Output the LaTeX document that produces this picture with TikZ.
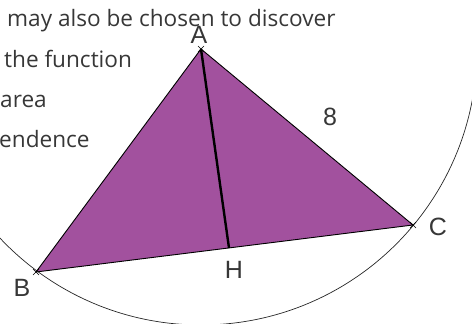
\documentclass[tikz,border=0pt]{standalone}
\usepackage{fontspec}
\setmainfont{Open Sans}
\newfontfamily\labelfont{Liberation Sans}
\definecolor{tri}{RGB}{162,81,158}
\definecolor{txt}{RGB}{55,55,55}
\begin{document}
\begin{tikzpicture}[x=1pt,y=-1pt,
  bodytext/.style={anchor=base west,inner sep=0pt,text=txt,font=\fontsize{22.6}{26}\selectfont},
  ptlabel/.style={inner sep=0pt,text=txt,font=\labelfont\fontsize{25}{28}\selectfont},
  ptcross/.style={line width=0.6pt,black}]
\useasboundingbox (0,0) rectangle (472,324);
\coordinate (A) at (201,49);
\coordinate (B) at (36,272);
\coordinate (C) at (413,225);
\coordinate (H) at (229,248);
% text lines
\node[bodytext] (t1) at (7,27) {may also be chosen to discover};
\node[bodytext] (t2) at (4,67) {the function};
\node[bodytext] (t3) at (0,107) {area};
\node[bodytext] (t4) at (-1,147) {endence};
% circle
\draw[line width=0.7pt,black!85] (A) circle[radius=276];
% triangle
\fill[tri] (A) -- (B) -- (C) -- cycle;
\draw[line width=0.9pt,black] (A) -- (B) -- (C) -- cycle;
\draw[line width=2.4pt,black] (A) -- (H);
% point crosses
\foreach \p in {A,B,C}{
  \draw[ptcross] ([shift={(-3,-3)}]\p) -- ([shift={(3,3)}]\p);
  \draw[ptcross] ([shift={(-3,3)}]\p) -- ([shift={(3,-3)}]\p);
}
% labels
\node[ptlabel] (lA) at (199,35) {A};
\node[ptlabel] (lB) at (22,288) {B};
\node[ptlabel] (lC) at (438,227) {C};
\node[ptlabel] (lH) at (234,270) {H};
\node[ptlabel] (l8) at (330,117) {8};
\end{tikzpicture}
\end{document}
